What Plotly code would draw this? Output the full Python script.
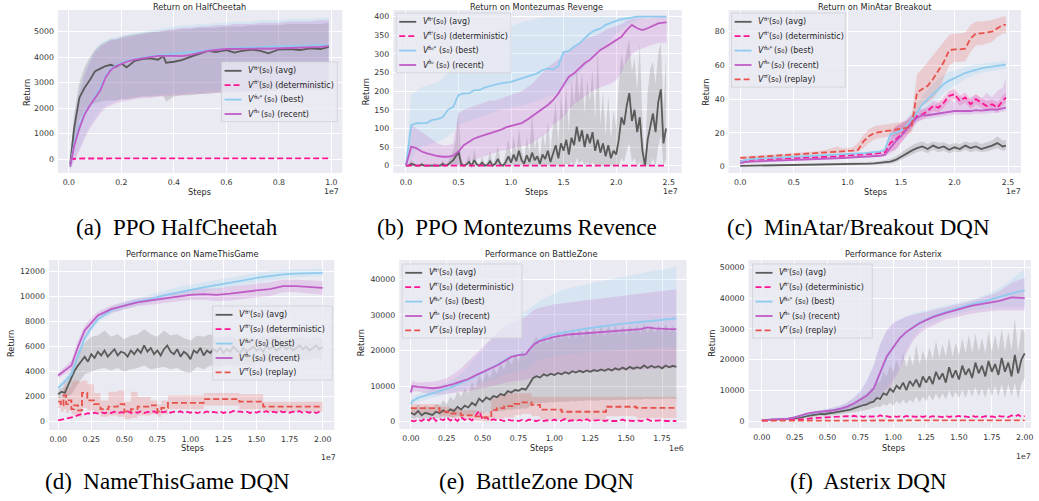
import plotly.graph_objects as go

W, H = 1039, 501
AVG = "#5a5a5a"
DET = "#ff1493"
BEST = "#8ecbee"
RECENT = "#c05cc6"
REPLAY = "#e8524c"
BG = "#eaeaf2"

# ---------------- (a) HalfCheetah (x in 1e7 steps) ----------------
a_x = [0.005, 0.02, 0.04, 0.06, 0.08, 0.10, 0.12, 0.14, 0.16, 0.18, 0.20, 0.22, 0.25, 0.28, 0.31, 0.34, 0.36, 0.37,
       0.40, 0.43, 0.46, 0.50, 0.53, 0.56, 0.60, 0.63, 0.66, 0.70, 0.73, 0.76, 0.80, 0.84, 0.88, 0.92, 0.96, 0.99]
a_avg = [-200, 1200, 2400, 2800, 3100, 3450, 3550, 3650, 3700, 3620, 3750, 3600, 3850, 3920, 3950, 3900, 4050, 3780,
         3820, 3880, 4000, 4150, 4250, 4200, 4280, 4180, 4250, 4300, 4250, 4150, 4300, 4320, 4280, 4350, 4320, 4400]
a_avg_hi = [-100, 1800, 3000, 3600, 4000, 4300, 4500, 4600, 4700, 4700, 4800, 4850, 4900, 4950, 5000, 5000, 5050, 5050,
            5050, 5100, 5100, 5150, 5150, 5150, 5200, 5200, 5200, 5250, 5250, 5250, 5250, 5300, 5300, 5300, 5300, 5350]
a_avg_lo = [-300, 500, 1500, 1900, 2100, 2200, 2250, 2300, 2300, 2300, 2350, 2350, 2400, 2450, 2450, 2450, 2500, 2250,
            2450, 2500, 2500, 2550, 2550, 2600, 2600, 2600, 2650, 2650, 2650, 2650, 2700, 2700, 2700, 2700, 2700, 2700]
a_det_x = [0.005, 0.05, 0.99]
a_det = [0, 20, 25]
a_best = [-300, 600, 1300, 1800, 2100, 2450, 2800, 3250, 3550, 3680, 3780, 3850, 3920, 3980, 4030, 4080, 4100, 4110,
          4150, 4180, 4210, 4250, 4280, 4300, 4330, 4350, 4370, 4390, 4400, 4410, 4420, 4430, 4440, 4450, 4470, 4480]
a_best_hi = [-200, 1600, 2700, 3400, 3900, 4300, 4500, 4650, 4750, 4800, 4850, 4900, 4950, 5000, 5050, 5100, 5150, 5150,
             5200, 5250, 5250, 5300, 5300, 5350, 5350, 5400, 5400, 5400, 5450, 5450, 5450, 5500, 5500, 5500, 5550, 5550]
a_best_lo = [-400, 0, 400, 900, 1300, 1600, 1900, 2100, 2200, 2300, 2350, 2400, 2450, 2500, 2500, 2550, 2550, 2550,
             2600, 2600, 2650, 2650, 2700, 2700, 2750, 2750, 2750, 2800, 2800, 2800, 2820, 2850, 2850, 2850, 2850, 2850]
a_rec = [-300, 500, 1200, 1750, 2100, 2400, 2700, 3200, 3500, 3650, 3750, 3820, 3900, 3960, 4000, 4050, 4060, 4060,
         4050, 4040, 4080, 4180, 4250, 4280, 4320, 4320, 4330, 4350, 4340, 4330, 4340, 4360, 4370, 4380, 4400, 4430]
a_rec_hi = [-200, 1500, 2600, 3300, 3800, 4200, 4400, 4550, 4650, 4700, 4750, 4800, 4850, 4900, 4950, 5000, 5050, 5050,
            5100, 5150, 5150, 5200, 5200, 5250, 5250, 5300, 5300, 5300, 5350, 5350, 5350, 5400, 5400, 5400, 5450, 5450]
a_rec_lo = [-400, -100, 300, 800, 1200, 1500, 1800, 2000, 2100, 2200, 2250, 2300, 2350, 2400, 2400, 2450, 2450, 2450,
            2500, 2500, 2550, 2550, 2600, 2600, 2650, 2650, 2650, 2700, 2700, 2700, 2720, 2750, 2750, 2750, 2750, 2750]

# ---------------- (b) Montezuma's Revenge ----------------
b_x = [0.0, 0.05, 0.1, 0.15, 0.2, 0.25, 0.3, 0.35, 0.4, 0.45, 0.5, 0.55, 0.6, 0.65, 0.7, 0.75, 0.8, 0.85, 0.9, 0.95,
       1.0, 1.05, 1.1, 1.15, 1.2, 1.25, 1.3, 1.35, 1.4, 1.45, 1.5, 1.55, 1.6, 1.65, 1.7, 1.75, 1.8, 1.85, 1.9, 1.95,
       2.0, 2.05, 2.1, 2.15, 2.2, 2.25, 2.3, 2.35, 2.4, 2.45, 2.48]
b_best = [0, 109, 114, 114, 115, 123, 125, 130, 150, 158, 190, 194, 194, 203, 203, 210, 214, 217, 221, 223,
          225, 230, 234, 239, 243, 248, 257, 261, 258, 268, 305, 308, 320, 328, 342, 355, 364, 368, 378, 384,
          389, 393, 396, 398, 400, 400, 400, 400, 400, 400, 400]
b_best_hi = [0, 190, 200, 210, 215, 220, 225, 235, 250, 265, 300, 310, 320, 330, 340, 350, 355, 360, 365, 370,
             375, 380, 385, 390, 392, 395, 398, 400, 400, 400, 400, 400, 400, 400, 400, 400, 400, 400, 400, 400,
             400, 400, 400, 400, 400, 400, 400, 400, 400, 400, 400]
b_best_lo = [0, 20, 40, 50, 55, 60, 65, 70, 80, 90, 110, 115, 120, 125, 130, 135, 140, 145, 150, 152,
             155, 158, 160, 165, 170, 175, 180, 185, 190, 195, 210, 220, 235, 250, 265, 280, 295, 310, 325, 340,
             355, 365, 375, 385, 390, 395, 398, 400, 400, 400, 400]
b_rec = [0, 51, 47, 38, 33, 29, 26, 24, 24, 27, 38, 55, 64, 73, 78, 82, 87, 91, 96, 103,
         106, 109, 114, 123, 133, 145, 154, 163, 176, 194, 217, 239, 248, 261, 275, 284, 297, 311, 319, 328,
         337, 346, 364, 378, 369, 364, 369, 375, 382, 384, 385]
b_rec_hi = [0, 110, 100, 90, 80, 70, 60, 55, 55, 60, 140, 150, 155, 160, 165, 170, 175, 175, 180, 185,
            190, 195, 200, 210, 220, 235, 250, 265, 275, 285, 300, 310, 320, 330, 340, 345, 350, 355, 365, 370,
            375, 380, 390, 395, 395, 395, 395, 398, 400, 400, 400]
b_rec_lo = [0, 0, 0, 0, 0, 0, 0, 0, 0, 0, 0, 5, 10, 15, 20, 25, 30, 35, 40, 42,
            45, 48, 50, 55, 60, 70, 80, 90, 110, 120, 130, 150, 165, 175, 185, 195, 205, 210, 215, 220,
            230, 250, 280, 300, 310, 315, 320, 325, 330, 330, 330]
b_det_x = [0.0, 2.48]
b_det = [0, 0]
b_xn = [round(i * 0.025, 3) for i in range(100)]
b_avg = [0, 0, 5, 2, 0, 0, 3, 0, 0, 0,
         0, 2, 0, 0, 5, 0, 3, 8, 15, 25,
         38, 5, 0, 3, 10, 0, 15, 3, 0, 8,
         0, 2, 12, 0, 5, 18, 3, 0, 10, 25,
         8, 30, 12, 40, 15, 5, 28, 10, 35, 15,
         25, 5, 30, 18, 40, 10, 35, 55, 20, 60,
         40, 70, 30, 75, 55, 105, 65, 95, 50, 85,
         60, 90, 40, 70, 35, 60, 25, 55, 20, 40,
         30, 70, 130, 110, 160, 195, 120, 150, 90, 130,
         40, 0, 70, 110, 140, 90, 170, 205, 60, 100]
b_avg_hi = [0, 2, 15, 8, 2, 2, 10, 2, 2, 2,
            3, 8, 3, 2, 15, 3, 10, 25, 40, 70,
            150, 20, 3, 10, 30, 3, 45, 10, 3, 25,
            3, 8, 40, 3, 20, 55, 10, 3, 35, 70,
            25, 80, 35, 100, 45, 15, 80, 30, 140, 45,
            75, 20, 90, 50, 120, 35, 110, 170, 60, 190,
            120, 210, 90, 230, 160, 260, 180, 250, 140, 230,
            170, 260, 120, 310, 110, 200, 80, 190, 70, 150,
            100, 220, 300, 260, 310, 340, 250, 290, 200, 330,
            120, 20, 200, 260, 280, 220, 300, 330, 150, 300]
b_avg_lo = [0, 0, 0, 0, 0, 0, 0, 0, 0, 0,
            0, 0, 0, 0, 0, 0, 0, 0, 0, 0,
            0, 0, 0, 0, 0, 0, 0, 0, 0, 0,
            0, 0, 0, 0, 0, 0, 0, 0, 0, 0,
            0, 0, 0, 0, 0, 0, 0, 0, 0, 0,
            0, 0, 0, 0, 0, 0, 0, 0, 0, 0,
            0, 5, 0, 10, 0, 20, 5, 15, 0, 10,
            0, 10, 0, 0, 0, 0, 0, 0, 0, 0,
            0, 0, 20, 10, 40, 60, 10, 20, 0, 10,
            0, 0, 0, 0, 20, 0, 50, 80, 0, 20]

# ---------------- (c) MinAtar Breakout ----------------
c_x = [0.0, 0.05, 0.1, 0.15, 0.2, 0.25, 0.3, 0.35, 0.4, 0.45, 0.5, 0.55, 0.6, 0.65, 0.7, 0.75, 0.8, 0.85, 0.9, 0.95,
       1.0, 1.05, 1.1, 1.15, 1.2, 1.25, 1.3, 1.35, 1.4, 1.45, 1.5, 1.55, 1.6, 1.65, 1.7, 1.75, 1.8, 1.85, 1.9, 1.95,
       2.0, 2.05, 2.1, 2.15, 2.2, 2.25, 2.3, 2.35, 2.4, 2.45, 2.48]
c_avg = [0.5, 0.55, 0.6, 0.65, 0.7, 0.7, 0.7, 0.75, 0.8, 0.85, 0.9, 0.95, 1.0, 1.0, 1.0, 1.1, 1.2, 1.25, 1.3, 1.4,
         1.5, 1.55, 1.6, 1.7, 1.8, 2.0, 2.2, 2.5, 3.0, 4.0, 6.0, 8.0, 9.5, 11.0, 12.0, 10.5, 12.5, 11.0, 12.0, 10.0,
         11.5, 10.5, 12.5, 11.0, 12.0, 10.5, 11.5, 12.5, 14.0, 12.0, 12.5]
c_avg_hi = [0.8, 0.9, 1.0, 1.0, 1.1, 1.1, 1.1, 1.2, 1.2, 1.3, 1.4, 1.4, 1.5, 1.5, 1.5, 1.7, 1.8, 1.9, 2.0, 2.1,
            2.2, 2.3, 2.4, 2.6, 2.7, 3.0, 3.3, 3.8, 4.5, 6.0, 8.5, 10.5, 12.5, 14.0, 15.0, 13.5, 15.0, 14.0, 14.5, 13.0,
            14.0, 13.5, 15.0, 14.0, 15.0, 13.5, 14.5, 15.5, 18.0, 15.5, 16.0]
c_avg_lo = [0.2, 0.2, 0.3, 0.3, 0.3, 0.3, 0.3, 0.4, 0.4, 0.4, 0.5, 0.5, 0.6, 0.6, 0.6, 0.6, 0.7, 0.7, 0.7, 0.8,
            0.9, 0.9, 1.0, 1.0, 1.1, 1.2, 1.3, 1.5, 1.8, 2.5, 4.0, 5.5, 7.0, 8.5, 9.5, 8.0, 10.0, 8.5, 9.5, 8.0,
            9.0, 8.5, 10.0, 8.5, 9.5, 8.5, 9.0, 10.0, 11.0, 9.5, 10.0]
c_det = [3.2, 3.8, 4.0, 4.2, 4.3, 4.4, 4.5, 4.6, 4.7, 4.8, 5.0, 5.1, 5.2, 5.3, 5.5, 5.6, 5.8, 6.0, 6.2, 6.4,
         6.6, 6.8, 7.0, 7.2, 7.4, 7.6, 8.0, 8.5, 14.0, 16.0, 19.0, 22.0, 26.0, 30.0, 31.0, 33.0, 36.0, 35.0, 38.0, 42.0,
         43.0, 39.0, 41.0, 37.0, 40.0, 38.0, 36.0, 37.0, 35.0, 39.0, 41.0]
c_det_hi = [4, 4.5, 4.8, 5, 5.1, 5.2, 5.3, 5.4, 5.5, 5.6, 5.8, 5.9, 6, 6.1, 6.3, 6.4, 6.6, 6.8, 7, 7.2,
            7.4, 7.6, 7.8, 8, 8.2, 8.4, 8.8, 9.5, 20, 24, 25, 27, 30, 33, 34, 36, 39, 38, 41, 45,
            46, 42, 44, 40, 43, 41, 39, 40, 38, 42, 44]
c_det_lo = [2.5, 3.1, 3.2, 3.4, 3.5, 3.6, 3.7, 3.8, 3.9, 4, 4.2, 4.3, 4.4, 4.5, 4.7, 4.8, 5, 5.2, 5.4, 5.6,
            5.8, 6, 6.2, 6.4, 6.6, 6.8, 7.2, 7.5, 9, 10, 14, 18, 23, 27, 28, 30, 33, 32, 35, 39,
            40, 36, 38, 34, 37, 35, 33, 34, 32, 36, 38]
c_best = [3, 4, 4.5, 4.8, 5, 5.1, 5.2, 5.35, 5.5, 5.65, 5.8, 5.9, 6, 6.15, 6.3, 6.5, 6.7, 6.85, 7, 7.15,
          7.3, 7.55, 7.8, 8.05, 8.3, 8.6, 9, 10, 19, 20, 21.5, 24, 28, 32, 37, 40, 43, 46, 49, 51,
          52.5, 54, 55.5, 56.5, 57.5, 58.2, 58.8, 59.3, 59.8, 60.3, 60.5]
c_best_hi = [3.8, 4.8, 5.3, 5.6, 5.8, 5.9, 6, 6.15, 6.3, 6.45, 6.6, 6.7, 6.8, 6.95, 7.1, 7.3, 7.5, 7.65, 7.8, 7.95,
             8.1, 8.35, 8.6, 8.85, 9.1, 9.4, 9.8, 11, 21, 23, 25, 28, 32, 37, 42, 46, 49, 52, 54, 56,
             57, 58, 59, 60, 60.5, 61, 61.5, 62, 62.3, 62.6, 62.8]
c_best_lo = [2.2, 3.2, 3.7, 4, 4.2, 4.3, 4.4, 4.55, 4.7, 4.85, 5, 5.1, 5.2, 5.35, 5.5, 5.7, 5.9, 6.05, 6.2, 6.35,
             6.5, 6.75, 7, 7.25, 7.5, 7.8, 8.2, 9, 16, 17, 18, 20, 24, 27, 32, 34, 37, 40, 44, 46,
             48, 50, 52, 53, 55, 55.5, 56, 56.5, 57, 57.5, 58]
c_rec = [2, 2.8, 3, 3.1, 3.2, 3.3, 3.4, 3.5, 3.6, 3.7, 3.8, 3.9, 4, 4.15, 4.3, 4.45, 4.6, 4.8, 5, 5.15,
         5.3, 5.45, 5.6, 5.8, 6, 6.25, 6.5, 7, 11, 15, 18, 22, 26, 29, 30.5, 30.5, 31, 31.5, 32, 32.5,
         33, 33, 32.8, 33, 33.5, 33.2, 33.6, 34, 33.8, 34.5, 35]
c_rec_hi = [2.6, 3.4, 3.6, 3.7, 3.8, 3.9, 4, 4.1, 4.2, 4.3, 4.4, 4.5, 4.6, 4.75, 4.9, 5.05, 5.2, 5.4, 5.6, 5.75,
            5.9, 6.05, 6.2, 6.4, 6.6, 6.85, 7.2, 8, 16, 24, 26, 28, 31, 33, 34, 35, 36, 38, 37, 40,
            38, 42, 39, 41, 43, 40, 44, 41, 45, 47, 53]
c_rec_lo = [1.4, 2.2, 2.4, 2.5, 2.6, 2.7, 2.8, 2.9, 3, 3.1, 3.2, 3.3, 3.4, 3.55, 3.7, 3.85, 4, 4.2, 4.4, 4.55,
            4.7, 4.85, 5, 5.2, 5.4, 5.65, 5.8, 6, 8, 10, 14, 18, 22, 26, 28, 28.5, 29, 29.5, 30, 30.5,
            31, 31, 30.8, 31, 31.5, 31.2, 31.6, 32, 31.8, 32.5, 33]
c_rep = [5.2, 5.5, 5.7, 5.9, 6.0, 6.2, 6.4, 6.6, 6.8, 7.0, 7.2, 7.4, 7.6, 7.8, 8.0, 8.2, 8.4, 8.6, 8.8, 9.0,
         9.2, 9.5, 10.0, 15.0, 18.0, 20.0, 20.5, 21.0, 21.5, 22.0, 22.5, 23.0, 24.0, 44.0, 46.0, 48.0, 52.0, 57.0, 62.0, 69.0,
         69.5, 69.5, 70.0, 76.0, 79.0, 79.0, 79.5, 80.0, 82.0, 84.0, 84.0]
c_rep_hi = [6, 6.3, 6.5, 6.7, 6.8, 7, 7.2, 7.4, 7.6, 7.8, 8, 8.2, 8.4, 8.6, 9, 9.5, 10, 11, 12, 11,
            11, 11.5, 14, 19, 22, 24, 24.5, 25, 25.5, 26, 26.5, 27, 30, 55, 58, 62, 66, 70, 74, 78,
            79, 79, 79.5, 84, 86, 86, 86.5, 87, 88, 89, 89]
c_rep_lo = [4.4, 4.7, 4.9, 5.1, 5.2, 5.4, 5.6, 5.8, 6, 6.2, 6.4, 6.6, 6.8, 7, 7.2, 7.4, 7.6, 7.8, 8, 8.2,
            8.4, 8.6, 8.8, 11, 14, 16, 17, 17.5, 18, 18.5, 19, 19.5, 20, 33, 36, 38, 40, 45, 52, 60,
            62, 62, 62.5, 68, 72, 72, 73, 74, 77, 79, 79]

# ---------------- (d) NameThisGame ----------------
d_x = [0, 0.05, 0.1, 0.15, 0.2, 0.25, 0.3, 0.4, 0.5, 0.6, 0.7, 0.8, 0.9, 1.0, 1.1, 1.2, 1.3, 1.4, 1.5, 1.6, 1.7, 1.8, 1.9, 2.0]
d_best = [2700, 3200, 3800, 5200, 6700, 7500, 8200, 8900, 9300, 9600, 9800, 10100, 10350, 10550, 10750, 10950, 11150,
          11350, 11500, 11650, 11780, 11850, 11880, 11900]
d_best_hi = [2900, 3500, 4200, 5600, 7000, 7800, 8500, 9200, 9600, 9900, 10200, 10500, 10750, 10950, 11150, 11350,
             11550, 11750, 11900, 12050, 12150, 12200, 12200, 12250]
d_best_lo = [2500, 2900, 3400, 4800, 6300, 7200, 7900, 8600, 9000, 9300, 9500, 9750, 10000, 10200, 10400, 10600,
             10800, 11000, 11150, 11300, 11450, 11550, 11600, 11600]
d_rec = [3700, 4100, 4500, 6000, 7300, 7900, 8500, 9000, 9300, 9550, 9700, 9850, 10000, 10150, 10200, 10150, 10250,
         10400, 10500, 10600, 10850, 10850, 10750, 10700]
d_rec_hi = [3900, 4400, 4900, 6500, 7700, 8300, 8800, 9300, 9600, 9850, 10000, 10200, 10400, 10550, 10650, 10650,
            10800, 10950, 11050, 11150, 11350, 11350, 11300, 11250]
d_rec_lo = [3500, 3800, 4100, 5500, 6900, 7500, 8200, 8700, 9000, 9250, 9350, 9500, 9650, 9750, 9750, 9650, 9700,
            9850, 9950, 10050, 10350, 10350, 10250, 10150]
d_xn = [round(i * 0.025, 3) for i in range(81)]
d_avg = [2200, 2400, 2300, 2900, 3400, 4100, 4500, 4900, 5200, 4800,
         5400, 5100, 5600, 5300, 5700, 5200, 5500, 5800, 5300, 5600,
         5500, 5200, 5700, 5400, 5800, 5500, 6100, 5600, 5900, 5400,
         5700, 5300, 5800, 6100, 5600, 5400, 5800, 5200, 5600, 5400,
         5000, 5700, 5500, 5900, 5300, 5700, 5500, 5800, 5600, 5900,
         5500, 5800, 5600, 6000, 5700, 5500, 5900, 5600, 5800, 6000,
         5700, 5900, 5600, 6100, 5800, 6000, 5700, 5900, 6100, 5800,
         6000, 5700, 5900, 6100, 5800, 6000, 5700, 5900, 6100, 5800,
         6000]
d_det = [100, 150, 200, 250, 320, 400, 520, 600, 580, 680,
         620, 720, 650, 760, 680, 740, 700, 800, 680, 760,
         720, 840, 700, 780, 720, 820, 690, 780, 740, 830,
         700, 790, 760, 850, 720, 800, 740, 830, 700, 780,
         720, 800, 690, 770, 720, 820, 700, 780, 730, 810,
         700, 790, 740, 860, 760, 830, 740, 800, 700, 790,
         730, 820, 750, 840, 720, 800, 740, 860, 750, 820,
         720, 800, 760, 850, 700, 790, 720, 830, 690, 780,
         800]
d_xb = [round(i * 0.05, 3) for i in range(41)]
d_avg_hi = [2600, 2800, 4200, 5600, 6300, 6800, 6900, 7300, 6800, 7000, 6600, 6900, 7000, 7400, 7000, 6800, 7300,
            6900, 7000, 6700, 6500, 6900, 6800, 7000, 6700, 6800, 6900, 6600, 6800, 6700, 6600, 6800, 6700, 6900,
            6700, 6600, 6800, 6700, 6600, 6800, 6700]
d_avg_lo = [1900, 1900, 2200, 3000, 3800, 4000, 4200, 4300, 4100, 4300, 4000, 4200, 4300, 4500, 4200, 4300, 4400,
            4200, 4300, 4000, 3900, 4400, 4200, 4500, 4400, 4500, 4600, 4400, 4600, 4500, 4600, 4800, 4700, 4900,
            4800, 4900, 5000, 4900, 5000, 5100, 5000]
d_rep_x = [0, 0.02, 0.04, 0.06, 0.08, 0.10, 0.12, 0.15, 0.18, 0.22, 0.27, 0.32, 0.38, 0.45, 0.5, 0.55, 0.6, 0.7,
           0.75, 0.78, 0.83, 1.1, 1.37, 1.55, 2.0]
d_rep = [1600, 1300, 2100, 1400, 1700, 1000, 1300, 900, 2300, 1700, 1400, 1000, 1200, 1400, 800, 1000, 1200, 1300,
         800, 1100, 1500, 1800, 1600, 1200, 1200]
d_rep_hi = [2000, 1900, 3300, 2500, 2800, 3200, 3300, 3200, 3300, 3000, 2300, 1700, 2400, 2500, 1600, 2400, 2000,
            1700, 1400, 1700, 2100, 2300, 2200, 1600, 1600]
d_rep_lo = [1100, 800, 1000, 700, 900, 600, 500, 400, 1100, 900, 700, 400, 500, 400, 200, 300, 500, 600, 400, 600,
            1000, 1300, 1000, 800, 800]

# ---------------- (e) BattleZone (x in 1e6 steps) ----------------
e_x = [0, 0.01, 0.05, 0.1, 0.15, 0.2, 0.25, 0.3, 0.35, 0.4, 0.45, 0.5, 0.55, 0.6, 0.65, 0.7, 0.75, 0.8, 0.83, 0.86,
       0.9, 0.95, 1.0, 1.1, 1.2, 1.3, 1.4, 1.5, 1.6, 1.65, 1.7, 1.8, 1.85]
e_best = [5000, 5800, 6700, 7300, 7900, 8500, 9200, 10000, 10800, 11800, 12800, 13800, 14800, 16000, 17200, 18300,
          18800, 19000, 20500, 22000, 23000, 24000, 24600, 25400, 26000, 26600, 27200, 27600, 28000, 28200, 28500,
          28800, 29000]
e_best_hi = [6000, 7000, 7800, 8500, 9200, 10000, 11000, 12000, 13500, 15500, 18000, 20000, 22500, 25000, 27000,
             28000, 29500, 31000, 32000, 33000, 34000, 35000, 36000, 37500, 38500, 39300, 40000, 40800, 41500, 42000,
             42500, 43000, 43500]
e_best_lo = [4000, 4800, 5600, 6100, 6600, 7100, 7600, 8200, 8800, 9500, 10200, 10800, 11500, 12300, 13000, 13800,
             14200, 14500, 15500, 16500, 17500, 18000, 18500, 19000, 19500, 19800, 20000, 20300, 20500, 20600, 20800,
             21000, 21000]
e_rec = [8200, 10000, 9800, 9500, 9400, 9600, 10000, 10600, 11300, 12000, 13000, 13900, 14800, 15800, 17000, 18200,
         18700, 18900, 20500, 21800, 22700, 23300, 23800, 24500, 24800, 25000, 25300, 25600, 26000, 26500, 26200,
         26000, 26000]
e_rec_hi = [10000, 11500, 11000, 11000, 11200, 11600, 12200, 13500, 15000, 17000, 19000, 21000, 23000, 25000, 26500,
            27500, 28500, 29500, 30500, 31500, 32000, 32500, 33000, 33500, 34000, 34500, 35000, 35500, 36000, 36300,
            36500, 37000, 37200]
e_rec_lo = [6500, 8500, 8500, 8000, 7600, 7600, 7800, 8000, 8300, 8600, 9000, 9400, 9800, 10300, 10800, 11300,
            11600, 11800, 12200, 12700, 13000, 13300, 13500, 13800, 14000, 14200, 14400, 14600, 14800, 14900, 15000,
            15000, 15000]
e_xn = [round(i * 0.025, 3) for i in range(75)]
e_avg = [2500, 2000, 3000, 1800, 2500, 2200, 1900, 2800, 2400, 3200,
         2600, 3500, 3000, 4200, 3400, 4500, 4000, 5300, 4600, 6500,
         5600, 6800, 6200, 7200, 6900, 7800, 7400, 8600, 8200, 8900,
         8700, 9300, 9000, 10500, 12200, 12800, 12400, 13300, 12900, 13500,
         13100, 13700, 13300, 13900, 13500, 14200, 13800, 14300, 13900, 14400,
         14000, 14500, 14200, 14700, 14300, 14800, 14400, 15000, 14600, 15200,
         14700, 15400, 14900, 15300, 15000, 15800, 15100, 15700, 15200, 15600,
         15000, 15800, 15300, 15700, 15400]
e_avg_hi = [4500, 3500, 5000, 3500, 4500, 4200, 3500, 5000, 4500, 6000,
            5000, 7000, 6000, 8500, 7000, 9500, 8000, 11000, 9500, 13000,
            11000, 14000, 12000, 15000, 13500, 16500, 14500, 18000, 16000, 19000,
            17000, 20000, 18000, 20000, 22000, 24000, 21500, 24500, 22000, 25000,
            22500, 25500, 23000, 26000, 23000, 26000, 23500, 26500, 23500, 26500,
            24000, 26500, 24000, 27000, 24000, 27000, 24500, 27000, 24500, 27000,
            24500, 27000, 25000, 27000, 25000, 27500, 25000, 27000, 25000, 27000,
            25000, 27500, 25000, 27000, 25000]
e_avg_lo = [1000, 800, 1200, 700, 1000, 900, 700, 1100, 900, 1300,
            1000, 1400, 1200, 1700, 1400, 1800, 1600, 2100, 1800, 2600,
            2200, 2700, 2500, 2900, 2800, 3100, 3000, 3400, 3300, 3600,
            3500, 3700, 3600, 4200, 5000, 5200, 5100, 5400, 5300, 5500,
            5400, 5600, 5500, 5700, 5600, 5800, 5700, 5900, 5800, 6000,
            5900, 6000, 5900, 6100, 6000, 6100, 6000, 6200, 6100, 6200,
            6100, 6300, 6200, 6300, 6200, 6400, 6300, 6400, 6300, 6400,
            6300, 6500, 6400, 6500, 6400]
e_det = [300, 100, 600, 200, 900, 300, 1500, 200, 800, 400,
         1200, 300, 900, 200, 1300, 500, 1000, 300, 1600, 3000,
         600, 1300, 200, 700, 300, 500, 200, 600, 300, 400,
         200, 500, 200, 600, 300, 200, 500, 200, 400, 200,
         600, 200, 300, 800, 200, 400, 200, 500, 200, 700,
         200, 300, 200, 500, 200, 400, 200, 300, 200, 600,
         200, 300, 200, 400, 200, 300, 700, 200, 300, 200,
         400, 200, 300, 200, 200]
e_rep_x = [0, 0.2, 0.27, 0.35, 0.45, 0.5, 0.56, 0.6, 0.65, 0.72, 0.77, 0.84, 0.9, 1.05, 1.36, 1.57, 1.85]
e_rep = [3800, 2800, 2300, 1800, 1500, 1200, 3300, 3800, 4400, 5000, 5400, 4700, 3400, 2800, 4200, 3900, 3900]
e_rep_hi = [5000, 4200, 3800, 3300, 3000, 2600, 6500, 7500, 8000, 8000, 8000, 7000, 7000, 7000, 7000, 7000, 7000]
e_rep_lo = [2500, 1500, 1000, 500, 300, 0, 500, 800, 1200, 1800, 2200, 1500, 600, 300, 1500, 1000, 1000]

# ---------------- (f) Asterix ----------------
f_x = [0, 0.1, 0.2, 0.25, 0.3, 0.35, 0.4, 0.45, 0.5, 0.55, 0.6, 0.65, 0.7, 0.75, 0.8, 0.85, 0.9, 0.95, 1.0, 1.05,
       1.1, 1.15, 1.2, 1.25, 1.3, 1.4, 1.5, 1.6, 1.7, 1.8, 1.9, 2.0]
f_best = [300, 500, 800, 1200, 1700, 2300, 2700, 2900, 3200, 3500, 4000, 4700, 5700, 7000, 8500, 10500, 15500, 20500,
          24000, 27000, 29000, 30500, 32000, 33000, 34000, 35500, 36800, 38000, 39000, 40300, 41500, 42500]
f_best_hi = [500, 700, 1100, 1600, 2200, 2900, 3300, 3600, 4000, 4500, 5200, 6300, 7800, 10000, 13500, 18000, 25000,
             29000, 31500, 33000, 34000, 35000, 35500, 36000, 36500, 37500, 38500, 39500, 41000, 43000, 46000, 49500]
f_best_lo = [100, 300, 500, 800, 1200, 1700, 2100, 2300, 2500, 2700, 3000, 3400, 4000, 4700, 5500, 6500, 8500, 11000,
             14000, 18000, 23000, 27000, 29500, 31000, 32000, 34000, 35000, 36000, 36500, 37000, 37000, 37000]
f_rec = [300, 500, 800, 1200, 1800, 2500, 2800, 3000, 3200, 3500, 4000, 4700, 5700, 6900, 8300, 10500, 16000, 21000,
         24000, 27000, 29000, 30500, 31800, 32800, 33800, 35200, 36300, 37500, 38300, 39000, 40200, 40000]
f_rec_hi = [500, 700, 1000, 1500, 2100, 2800, 3200, 3500, 3900, 4400, 5000, 6000, 7500, 9500, 13000, 18000, 25000,
            29500, 32000, 33000, 34000, 34500, 35000, 35500, 36000, 37000, 38000, 39000, 40500, 42000, 45000, 46500]
f_rec_lo = [100, 300, 500, 800, 1300, 1800, 2200, 2400, 2500, 2700, 3000, 3400, 4000, 4600, 5300, 6300, 8000, 10000,
            13000, 17000, 22000, 26000, 28500, 30000, 31000, 33000, 34000, 35000, 35500, 36000, 36000, 36000]
f_xn = [round(i * 0.025, 3) for i in range(81)]
f_avg = [300, 320, 350, 380, 420, 450, 500, 550, 620, 700,
         800, 950, 1200, 1400, 1700, 1900, 2000, 2100, 2300, 2200,
         2500, 2600, 2700, 2900, 3000, 3300, 3500, 3700, 4100, 4500,
         4800, 5200, 5400, 6000, 6300, 7500, 7200, 9000, 8500, 10500,
         9500, 11500, 10500, 12500, 10000, 13000, 11500, 13500, 11000, 14500,
         12500, 14500, 12000, 16000, 13500, 15500, 12500, 17500, 14000, 16500,
         13500, 18000, 15000, 17000, 14000, 19000, 15500, 18000, 14500, 19500,
         16000, 18500, 15000, 20500, 16000, 19000, 14500, 21500, 15500, 20000,
         22000]
f_avg_hi = [400, 420, 450, 500, 550, 600, 650, 720, 800, 900,
            1050, 1300, 1600, 1900, 2300, 2600, 2700, 2900, 3100, 3000,
            3300, 3500, 3700, 4000, 4200, 4600, 5000, 5400, 6000, 6800,
            7500, 8500, 9000, 10500, 11000, 13000, 12500, 16000, 14500, 18000,
            16000, 20000, 17000, 22000, 17500, 21500, 18000, 25000, 18500, 23000,
            19500, 24000, 20000, 26000, 20500, 25000, 21000, 27000, 21000, 25500,
            21500, 27000, 22000, 28000, 22000, 28500, 22500, 27000, 22000, 29000,
            22500, 28000, 23000, 30000, 22500, 29000, 23000, 33500, 22000, 30000,
            29000]
f_avg_lo = [200, 220, 250, 270, 300, 320, 350, 400, 450, 500,
            580, 650, 800, 950, 1100, 1300, 1400, 1450, 1600, 1500,
            1700, 1800, 1850, 2000, 2100, 2300, 2400, 2600, 2800, 3000,
            3200, 3500, 3600, 4000, 4200, 4800, 4500, 5500, 5000, 6000,
            5000, 6500, 5500, 7000, 5500, 7000, 6000, 8000, 6000, 8000,
            6500, 8500, 6500, 9000, 7000, 9000, 7000, 10000, 7500, 9500,
            7500, 10000, 7500, 10500, 8000, 11000, 8000, 10500, 7500, 11000,
            8000, 11500, 8000, 12000, 7500, 12000, 8000, 12500, 7000, 12000,
            14000]
f_det = [100, 120, 150, 180, 200, 230, 260, 300, 330, 380,
         420, 480, 560, 650, 800, 900, 950, 1000, 1050, 1100,
         1150, 1200, 1350, 1300, 1500, 1400, 1600, 1350, 1700, 1450,
         1600, 1300, 1800, 1400, 1500, 1250, 1900, 1400, 1550, 1300,
         1600, 1350, 1500, 1250, 1650, 1300, 1500, 1350, 1700, 1300,
         1550, 1250, 1600, 1350, 1450, 1250, 1700, 1300, 1500, 1400,
         1650, 1300, 1500, 1250, 1700, 1350, 1550, 1300, 1600, 1350,
         1500, 1250, 1700, 1400, 1550, 1300, 1800, 1450, 2000, 1400,
         1600]
f_rep_x = [0, 0.5, 1.0, 1.5, 2.0]
f_rep = [100, 200, 200, 200, 200]

# ---------------- legend text pieces ----------------
SUP = {"avg": "π̄ᵃ", "det": "π̄ᵃ", "best": "π̂₀*", "recent": "π̂₀", "replay": "πʳ"}
REST = {"avg": "(s₀) (avg)", "det": "(s₀) (deterministic)", "best": "(s₀) (best)",
        "recent": "(s₀) (recent)", "replay": "(s₀) (replay)"}
REST_DX = {"avg": 10.5, "det": 10.5, "best": 16, "recent": 13, "replay": 10}
STYLE = {
    "avg": (AVG, "solid"),
    "det": (DET, "6px,3px"),
    "best": (BEST, "solid"),
    "recent": (RECENT, "solid"),
    "replay": (REPLAY, "6px,3px"),
}


def rgba(hx, a):
    hx = hx.lstrip("#")
    r, g, b = int(hx[0:2], 16), int(hx[2:4], 16), int(hx[4:6], 16)
    return f"rgba({r},{g},{b},{a})"


panels = [
    dict(box=(58, 10, 343, 173), xr=[-0.0418, 1.0418], yr=[-550, 5852],
         xt=[0, 0.2, 0.4, 0.6, 0.8, 1.0], xf=".1f", yt=[0, 1000, 2000, 3000, 4000, 5000],
         title="Return on HalfCheetah", ty=0, tx=200, rx=27, ry=92, sx=200, sy=192,
         exp="1e7", ex=332, ey=191, cap="(a)\u00a0 PPO HalfCheetah", cx=177, cy=227,
         leg=(222, 62, 338), keys=["avg", "det", "best", "recent"],
         bands=[(a_x, a_avg_lo, a_avg_hi, AVG, 0.2, "linear"),
                (a_x, a_best_lo, a_best_hi, BEST, 0.2, "linear"),
                (a_x, a_rec_lo, a_rec_hi, RECENT, 0.2, "linear")],
         lines=[(a_x, a_avg, "avg", "linear"), (a_det_x, a_det, "det", "linear"),
                (a_x, a_best, "best", "linear"), (a_x, a_rec, "recent", "linear")]),
    dict(box=(394, 10, 683, 173), xr=[-0.1206, 2.6234], yr=[-19.6, 418.0],
         xt=[0, 0.5, 1.0, 1.5, 2.0, 2.5], xf=".1f", yt=[0, 50, 100, 150, 200, 250, 300, 350, 400],
         title="Return on Montezumas Revenge", ty=0, tx=538, rx=367, ry=92, sx=538, sy=192,
         exp="1e7", ex=672, ey=191, cap="(b)\u00a0 PPO Montezums Revence", cx=518, cy=227,
         leg=(397, 13, 512), keys=["avg", "det", "best", "recent"],
         bands=[(b_xn, b_avg_lo, b_avg_hi, AVG, 0.2, "linear"),
                (b_x, b_best_lo, b_best_hi, BEST, 0.2, "linear"),
                (b_x, b_rec_lo, b_rec_hi, RECENT, 0.2, "linear")],
         lines=[(b_xn, b_avg, "avg", "linear"), (b_det_x, b_det, "det", "linear"),
                (b_x, b_best, "best", "linear"), (b_x, b_rec, "recent", "linear")]),
    dict(box=(730, 10, 1023, 173), xr=[-0.109, 2.621], yr=[-3.73, 92.86],
         xt=[0, 0.5, 1.0, 1.5, 2.0, 2.5], xf=".1f", yt=[0, 20, 40, 60, 80],
         title="Return on MinAtar Breakout", ty=0, tx=877, rx=707, ry=92, sx=877, sy=192,
         exp="1e7", ex=1015, ey=191, cap="(c)\u00a0 MinAtar/Breakout DQN", cx=860, cy=227,
         leg=(733, 13, 847), keys=["avg", "det", "best", "recent", "replay"],
         bands=[(c_x, c_avg_lo, c_avg_hi, AVG, 0.2, "linear"),
                (c_x, c_det_lo, c_det_hi, DET, 0.2, "linear"),
                (c_x, c_best_lo, c_best_hi, BEST, 0.2, "linear"),
                (c_x, c_rec_lo, c_rec_hi, RECENT, 0.2, "linear"),
                (c_x, c_rep_lo, c_rep_hi, REPLAY, 0.2, "linear")],
         lines=[(c_x, c_avg, "avg", "linear"), (c_x, c_det, "det", "linear"),
                (c_x, c_best, "best", "linear"), (c_x, c_rec, "recent", "linear"),
                (c_x, c_rep, "replay", "linear")]),
    dict(box=(49, 260, 335, 430), xr=[-0.0702, 2.0883], yr=[-664, 12936],
         xt=[0, 0.25, 0.5, 0.75, 1.0, 1.25, 1.5, 1.75, 2.0], xf=".2f",
         yt=[0, 2000, 4000, 6000, 8000, 10000, 12000],
         title="Performance on NameThisGame", ty=254, tx=193, rx=11, ry=343, sx=193, sy=448,
         exp="1e7", ex=329, ey=457, cap="(d)\u00a0 NameThisGame DQN", cx=168, cy=481,
         leg=(213, 306, 333), keys=["avg", "det", "best", "recent", "replay"],
         bands=[(d_xb, d_avg_lo, d_avg_hi, AVG, 0.2, "linear"),
                (d_x, d_best_lo, d_best_hi, BEST, 0.2, "linear"),
                (d_x, d_rec_lo, d_rec_hi, RECENT, 0.2, "linear"),
                (d_rep_x, d_rep_lo, d_rep_hi, REPLAY, 0.2, "hv")],
         lines=[(d_xn, d_avg, "avg", "linear"), (d_xn, d_det, "det", "linear"),
                (d_x, d_best, "best", "linear"), (d_x, d_rec, "recent", "linear"),
                (d_rep_x, d_rep, "replay", "hv")]),
    dict(box=(400, 260, 688, 429), xr=[-0.0814, 1.9218], yr=[-2051, 45421],
         xt=[0, 0.25, 0.5, 0.75, 1.0, 1.25, 1.5, 1.75], xf=".2f", yt=[0, 10000, 20000, 30000, 40000],
         title="Performance on BattleZone", ty=254, tx=543, rx=362, ry=343, sx=543, sy=448,
         exp="1e6", ex=678, ey=448, cap="(e)\u00a0 BattleZone DQN", cx=538, cy=481,
         leg=(403, 264, 523), keys=["avg", "det", "best", "recent", "replay"],
         bands=[(e_xn, e_avg_lo, e_avg_hi, AVG, 0.2, "linear"),
                (e_x, e_best_lo, e_best_hi, BEST, 0.2, "linear"),
                (e_x, e_rec_lo, e_rec_hi, RECENT, 0.2, "linear"),
                (e_rep_x, e_rep_lo, e_rep_hi, REPLAY, 0.2, "hv")],
         lines=[(e_xn, e_avg, "avg", "linear"), (e_xn, e_det, "det", "linear"),
                (e_x, e_best, "best", "linear"), (e_x, e_rec, "recent", "linear"),
                (e_rep_x, e_rep, "replay", "hv")]),
    dict(box=(750, 260, 1033, 428), xr=[-0.101, 2.048], yr=[-2277, 52375],
         xt=[0, 0.25, 0.5, 0.75, 1.0, 1.25, 1.5, 1.75, 2.0], xf=".2f",
         yt=[0, 10000, 20000, 30000, 40000, 50000],
         title="Performance for Asterix", ty=254, tx=895, rx=713, ry=343, sx=895, sy=448,
         exp="1e7", ex=1025, ey=456, cap="(f)\u00a0 Asterix DQN", cx=870, cy=481,
         leg=(754, 264, 874), keys=["avg", "det", "best", "recent", "replay"],
         bands=[(f_xn, f_avg_lo, f_avg_hi, AVG, 0.2, "linear"),
                (f_x, f_best_lo, f_best_hi, BEST, 0.2, "linear"),
                (f_x, f_rec_lo, f_rec_hi, RECENT, 0.2, "linear")],
         lines=[(f_xn, f_avg, "avg", "linear"), (f_xn, f_det, "det", "linear"),
                (f_x, f_best, "best", "linear"), (f_x, f_rec, "recent", "linear"),
                (f_rep_x, f_rep, "replay", "linear")]),
]

fig = go.Figure()
annotations = []
shapes = []
layout = {}
FONT = "DejaVu Sans"


def px(xp):
    return xp / W


def py(yp):
    return 1 - yp / H


def add_text(s, x, y, size=8, angle=0, xanchor="center", yanchor="middle", family=FONT, color="#262626",
             style="normal"):
    annotations.append(dict(text=s, x=px(x), y=py(y), xref="paper", yref="paper", showarrow=False,
                            xanchor=xanchor, yanchor=yanchor, textangle=angle, borderpad=0,
                            font=dict(family=family, size=size, color=color, style=style)))


for i, p in enumerate(panels):
    n = "" if i == 0 else str(i + 1)
    xa, ya = "x" + n, "y" + n
    l, t, r, b = p["box"]
    layout["xaxis" + n] = dict(domain=[px(l), px(r)], range=p["xr"], anchor=ya, tickvals=p["xt"],
                               tickformat=p["xf"], showgrid=True, gridcolor="white", gridwidth=1,
                               zeroline=False, showline=False, ticks="", ticklabelstandoff=3,
                               tickfont=dict(family=FONT, size=7.8, color="#333333"), fixedrange=True)
    layout["yaxis" + n] = dict(domain=[py(b), py(t)], range=p["yr"], anchor=xa, tickvals=p["yt"],
                               tickformat="d", showgrid=True, gridcolor="white", gridwidth=1,
                               zeroline=False, showline=False, ticks="", ticklabelstandoff=3,
                               tickfont=dict(family=FONT, size=7.8, color="#333333"), fixedrange=True)
    for xs, lo, hi, col, al, shp in p["bands"]:
        fig.add_trace(go.Scatter(x=xs, y=lo, mode="lines", line=dict(width=0, shape=shp, color=col),
                                 showlegend=False, hoverinfo="skip", xaxis=xa, yaxis=ya))
        fig.add_trace(go.Scatter(x=xs, y=hi, mode="lines", line=dict(width=0, shape=shp, color=col),
                                 fill="tonexty", fillcolor=rgba(col, al), showlegend=False,
                                 hoverinfo="skip", xaxis=xa, yaxis=ya))
    for xs, ys, key, shp in p["lines"]:
        col, dash = STYLE[key]
        fig.add_trace(go.Scatter(x=xs, y=ys, mode="lines", name=key,
                                 line=dict(color=col, dash=dash, width=1.8, shape=shp),
                                 showlegend=False, xaxis=xa, yaxis=ya))
    # texts
    if p["ty"] == 0:
        add_text(p["title"], p["tx"], 0.5, size=8.2, yanchor="top")
    else:
        add_text(p["title"], p["tx"], p["ty"], size=8.2)
    add_text("Return", p["rx"], p["ry"], size=8.2, angle=-90)
    add_text("Steps", p["sx"], p["sy"], size=8.2)
    add_text(p["exp"], p["ex"], p["ey"], size=7.8, color="#333333")
    add_text(p["cap"], p["cx"], p["cy"], size=23, family="Liberation Serif", color="black")
    # legend box
    ll, lt, lr = p["leg"]
    nrow = len(p["keys"])
    lb = lt + 16.5 + (nrow - 1) * 14.4
    shapes.append(dict(type="rect", xref="paper", yref="paper", x0=px(ll), x1=px(lr), y0=py(lb), y1=py(lt),
                       fillcolor="rgba(234,234,242,0.8)", line=dict(color="#cfcfd6", width=0.8), layer="above"))
    for k, key in enumerate(p["keys"]):
        yy = lt + 8.8 + k * 14.4
        col, dash = STYLE[key]
        shapes.append(dict(type="line", xref="paper", yref="paper", x0=px(ll + 3), x1=px(ll + 20),
                           y0=py(yy), y1=py(yy), line=dict(color=col, dash=dash, width=1.8), layer="above"))
        add_text("V", ll + 25.5, yy, size=8, xanchor="left", style="italic")
        add_text(SUP[key], ll + 31, yy - 3, size=5.5, xanchor="left")
        add_text(REST[key], ll + 25.5 + REST_DX[key], yy, size=8, xanchor="left")

fig.update_layout(width=W, height=H, autosize=False, margin=dict(l=0, r=0, t=0, b=0),
                  paper_bgcolor="white", plot_bgcolor=BG, showlegend=False,
                  annotations=annotations, shapes=shapes, **layout)
fig.write_html("out.html", config={"displayModeBar": False, "staticPlot": True},
               post_script="document.body.style.margin='0px';document.body.style.overflow='hidden';")
